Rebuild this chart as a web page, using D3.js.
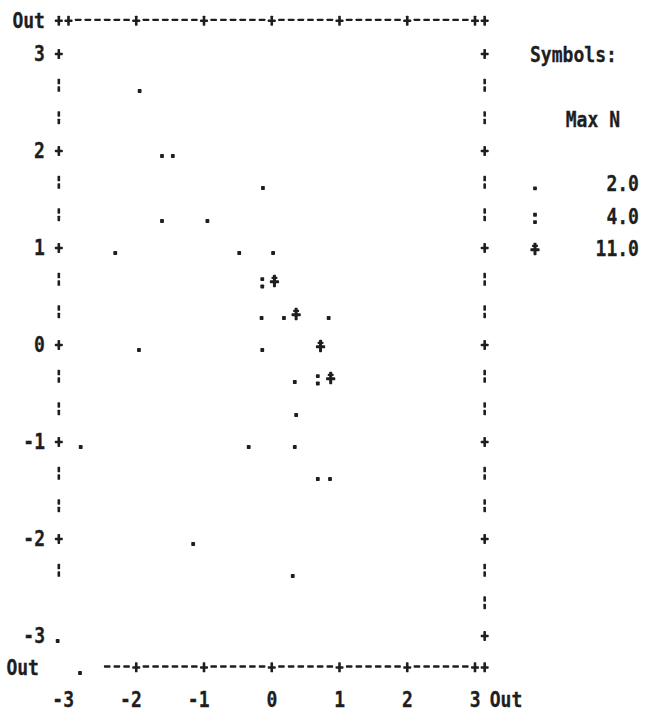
<!DOCTYPE html>
<html>
<head>
<meta charset="utf-8">
<script src="https://cdn.jsdelivr.net/npm/d3@7"></script>
<style>
  body { margin: 0; background: #fff; }
  svg text { font-family: "DejaVu Sans Mono", monospace; font-weight: bold; fill: #1e1e1e; stroke: #1e1e1e; stroke-width: 0.3; }
</style>
</head>
<body>
<script>
"use strict"

/* global d3 */

// axis ticks, both axes run -3 .. 3 with an "Out" row / column past the ends
const ticks = [-3, -2, -1, 0, 1, 2, 3]
const outLabel = "Out"

// plotted cells (x, y, printed symbol)
const pointX = [
  -1.95,
  -1.62, -1.46,
  -0.13,
  -1.62, -0.95,
  -2.31, -0.48, 0.02,
  -0.14, 0.04,
  -0.15, 0.18, 0.36, 0.84,
  -1.96, -0.14, 0.72,
  0.34, 0.68, 0.87,
  0.36,
  -2.82, -0.34, 0.34,
  0.68, 0.86,
  -1.16,
  0.31,
  -3.16,
  -2.83,
]
const pointY = [
  2.67,
  2, 2,
  1.67,
  1.33, 1.33,
  1, 1, 1,
  0.67, 0.67,
  0.33, 0.33, 0.33, 0.33,
  0, 0, 0,
  -0.33, -0.33, -0.33,
  -0.67,
  -1, -1, -1,
  -1.33, -1.33,
  -2,
  -2.33,
  -3,
  -3.33,
]
const pointSymbol = [
  ".",
  ".", ".",
  ".",
  ".", ".",
  ".", ".", ".",
  ":", "*",
  ".", ".", "*", ".",
  ".", ".", "*",
  ".", ":", "*",
  ".",
  ".", ".", ".",
  ".", ".",
  ".",
  ".",
  ".",
  ".",
]

// legend
const legendTitle = "Symbols:"
const legendHeader = "Max N"
const legendSymbols = [".", ":", "*"]
const legendMaxN = ["2.0", "4.0", "11.0"]

const width = 646
const height = 714

const x = d3.scaleLinear().domain([-3, 3]).range([68.5, 475])
const y = d3.scaleLinear().domain([-3, 3]).range([634, 52])

const col = c => x(c / 7)   // printer column, 7 per unit
const row = r => y(3 - r / 3) // printer row, 3 per unit

const svg = d3.select("body").append("svg")
  .attr("width", width)
  .attr("height", height)

// dot-matrix style glyphs, drawn around a cell centre
const block = (g, bx, by, w, h) => g.append("rect")
  .attr("x", bx).attr("y", by).attr("width", w).attr("height", h)
  .attr("rx", 0.7).attr("fill", "#1e1e1e")

const glyph = (g, ch) => {
  if (ch === ".") block(g, -1.9, 5.1, 3.8, 3.8)
  if (ch === ":") { block(g, -1.9, -0.8, 3.8, 3.8); block(g, -1.9, 6.6, 3.8, 3.8) }
  if (ch === "*") {
    block(g, -1.5, -3.2, 3, 12.4)
    block(g, -4.6, 2.2, 9.2, 3)
    block(g, -3, -1.2, 6, 2.2)
  }
  if (ch === "+") { block(g, -1.3, -4, 2.6, 10); block(g, -4, -0.2, 8, 2.5) }
  if (ch === "-") block(g, -3.3, -1, 6.6, 2.3)
  if (ch === "|") { block(g, -1.3, -6.5, 2.6, 5.5); block(g, -1.3, 1, 2.6, 5.5) }
}

const put = (px, py, ch) => svg.append("g")
  .attr("transform", `translate(${px},${py})`)
  .call(glyph, ch)

// condensed printer text
const label = (px, py, str, anchor) => svg.append("g")
  .attr("transform", `translate(${px},${py}) scale(0.86,1)`)
  .append("text")
  .attr("text-anchor", anchor || "start")
  .attr("dominant-baseline", "central")
  .attr("font-size", 21)
  .text(str)

// frame: top and bottom borders
const isTick = c => c % 7 === 0 || Math.abs(c) === 22
d3.range(-22, 23).forEach(c => put(col(c), row(-1), isTick(c) ? "+" : "-"))
d3.range(-17, 23).forEach(c => put(col(c), row(19), isTick(c) ? "+" : "-"))

// frame: left and right borders
d3.range(0, 17).forEach(r => put(col(-22), row(r) + 1, r % 3 === 0 ? "+" : "|"))
d3.range(0, 19).forEach(r => put(col(22), row(r) + 1, r % 3 === 0 ? "+" : "|"))

// points
pointX.forEach((v, i) => put(x(v), y(pointY[i]), pointSymbol[i]))

// y axis labels
ticks.forEach(t => label(45, y(t) + 2, t, "end"))
label(45, row(-1) + 1, outLabel, "end")
label(39, row(19) + 2, outLabel, "end")

// x axis labels, digit centred on the tick
ticks.forEach(t => label(x(t) + 5.6, row(20) + 1, t, "end"))
label(col(22) + 5, row(20) + 1, outLabel)

// legend
label(530, row(0) + 3, legendTitle)
label(620, row(2) + 3, legendHeader, "end")
legendSymbols.forEach((s, i) => {
  put(535, row(4 + i), s)
  label(639, row(4 + i) + 3, legendMaxN[i], "end")
})
</script>
</body>
</html>
